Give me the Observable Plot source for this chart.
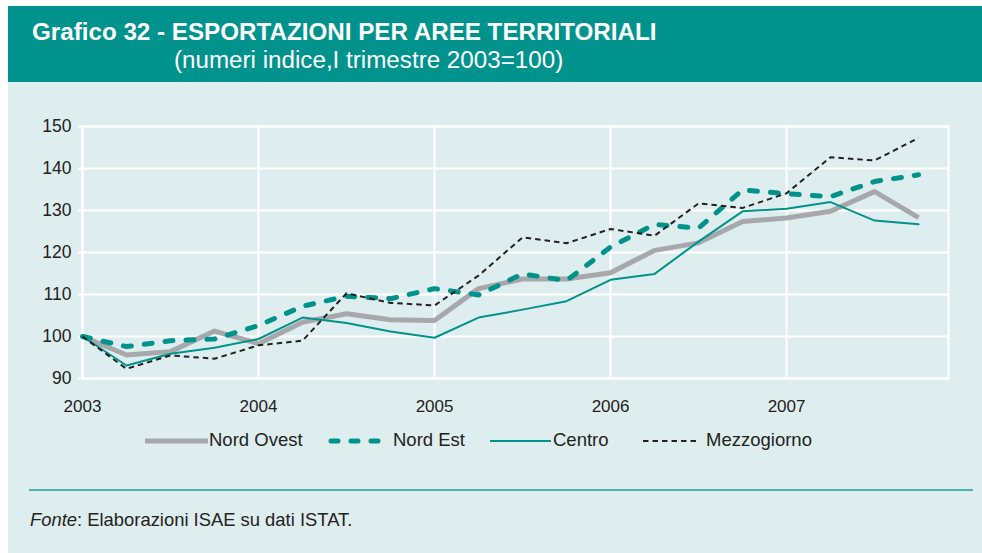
<!DOCTYPE html>
<html>
<head>
<meta charset="utf-8">
<script src="https://cdn.jsdelivr.net/npm/d3@7"></script>
<script src="https://cdn.jsdelivr.net/npm/@observablehq/plot@0.6"></script>
<style>
  html, body { margin: 0; padding: 0; background: #ffffff; }
  #root { position: relative; width: 982px; height: 553px; overflow: hidden; background: #ffffff; font-family: "Liberation Sans", Arial, Helvetica, sans-serif; }
  #panel { position: absolute; left: 8px; top: 6px; width: 974px; height: 547px; background: #deeeee; }
  #header { position: absolute; left: 8px; top: 6px; width: 974px; height: 76px; background: #00938e; }
  .t { position: absolute; white-space: nowrap; line-height: 1; }
  #title { left: 32px; top: 19.5px; font-size: 24.2px; font-weight: bold; color: #ffffff; }
  #subtitle { left: 174px; top: 47.5px; font-size: 24.2px; color: #ffffff; }
  #chart { position: absolute; left: 0; top: 100px; }
  #legend { position: absolute; left: 0; top: 0; }
  .lg { font-size: 18.5px; color: #222; top: 431.3px; }
  #rule { position: absolute; left: 29px; top: 488.5px; width: 944px; height: 2px; background: #4cb6ae; }
  #fonte { left: 30px; top: 511.4px; font-size: 18.4px; color: #222; }
</style>
</head>
<body>
<div id="root">
  <div id="panel"></div>
  <div id="header"></div>
  <div id="title" class="t">Grafico 32 - ESPORTAZIONI PER AREE TERRITORIALI</div>
  <div id="subtitle" class="t">(numeri indice,I trimestre 2003=100)</div>
  <div id="chart"></div>
  <svg id="legend" width="982" height="553"></svg>
  <div class="t lg" style="left:209px">Nord Ovest</div>
  <div class="t lg" style="left:393px">Nord Est</div>
  <div class="t lg" style="left:553px">Centro</div>
  <div class="t lg" style="left:706px">Mezzogiorno</div>
  <div id="rule"></div>
  <div id="fonte" class="t"><i>Fonte</i>: Elaborazioni ISAE su dati ISTAT.</div>
</div>
<script>
// Quarters (trimestri) 2003 T1 ... 2007 T4
const trimestri = [
  "2003-T1","2003-T2","2003-T3","2003-T4",
  "2004-T1","2004-T2","2004-T3","2004-T4",
  "2005-T1","2005-T2","2005-T3","2005-T4",
  "2006-T1","2006-T2","2006-T3","2006-T4",
  "2007-T1","2007-T2","2007-T3","2007-T4"
];
const anni = [2003, 2004, 2005, 2006, 2007];
const yTicks = [90, 100, 110, 120, 130, 140, 150];

const nordOvest   = [100, 95.6, 96.4, 101.3, 98.3, 103.4, 105.4, 104.0, 103.8, 111.4, 113.7, 113.7, 115.2, 120.5, 122.3, 127.4, 128.2, 129.8, 134.5, 128.3];
const nordEst     = [100, 97.6, 99.0, 99.4, 102.6, 107.2, 109.6, 109.0, 111.4, 109.9, 114.9, 113.3, 121.3, 126.7, 125.8, 134.9, 134.0, 133.3, 136.9, 138.5];
const centro      = [100, 93.1, 95.9, 97.3, 99.4, 104.5, 103.2, 101.2, 99.7, 104.5, 106.4, 108.4, 113.5, 114.9, 122.6, 129.8, 130.4, 132.0, 127.6, 126.7];
const mezzogiorno = [100, 92.3, 95.5, 94.7, 97.9, 99.0, 110.3, 108.0, 107.4, 114.5, 123.6, 122.2, 125.6, 124.0, 131.7, 130.6, 134.1, 142.7, 141.9, 147.3];

const serie = [
  {name: "Nord Ovest", values: nordOvest, stroke: "#a7a8ac", width: 5, dash: null, cap: "butt"},
  {name: "Centro", values: centro, stroke: "#00938e", width: 2, dash: null, cap: "round"},
  {name: "Nord Est", values: nordEst, stroke: "#00938e", width: 5, dash: "8 13", cap: "round"},
  {name: "Mezzogiorno", values: mezzogiorno, stroke: "#222222", width: 2, dash: "5.5 4", cap: "butt"}
];

const toX = (t) => { const [y, q] = t.split("-T"); return +y + (+q - 1) / 4; };

const lineMarks = serie.map(s => Plot.line(
  trimestri.map((t, i) => ({x: toX(t), y: s.values[i]})),
  {x: "x", y: "y", stroke: s.stroke, strokeWidth: s.width,
   strokeDasharray: s.dash || undefined, strokeLinecap: s.cap, strokeLinejoin: "round"}
));

const chart = Plot.plot({
  width: 982,
  height: 320,
  marginLeft: 82,
  marginRight: 34,
  marginTop: 26,
  marginBottom: 42,
  style: {background: "transparent", fontFamily: "'Liberation Sans', Arial, sans-serif", fontSize: "17px", color: "#222"},
  x: {domain: [2003, 2007.92], label: null},
  y: {domain: [90, 150], label: null},
  marks: [
    Plot.ruleY(yTicks, {stroke: "#ffffff", strokeWidth: 2}),
    Plot.ruleX(anni, {stroke: "#ffffff", strokeWidth: 2}),
    Plot.frame({stroke: "#ffffff", strokeWidth: 2}),
    Plot.axisY({ticks: yTicks, label: null, tickSize: 4, stroke: "#ffffff", strokeWidth: 2, tickPadding: 7, fill: "#222", fontSize: 17.5}),
    Plot.axisX({ticks: anni, label: null, tickFormat: d => String(d), tickSize: 0, tickPadding: 21, fill: "#222", fontSize: 17}),
    ...lineMarks
  ]
});
document.getElementById("chart").appendChild(chart);

// legend swatches
const lg = d3.select("#legend");
const swatches = [
  {x1: 145, x2: 208, s: serie[0]},
  {x1: 331, x2: 379, s: serie[2]},
  {x1: 490, x2: 551, s: serie[1]},
  {x1: 643, x2: 700, s: serie[3]}
];
swatches.forEach(w => {
  lg.append("line").attr("x1", w.x1).attr("x2", w.x2).attr("y1", 441).attr("y2", 441)
    .attr("stroke", w.s.stroke).attr("stroke-width", w.s.width)
    .attr("stroke-dasharray", w.s.dash === "8 13" ? "7 13" : w.s.dash)
    .attr("stroke-linecap", w.s.dash === "8 13" ? "round" : "butt");
});
</script>
</body>
</html>
